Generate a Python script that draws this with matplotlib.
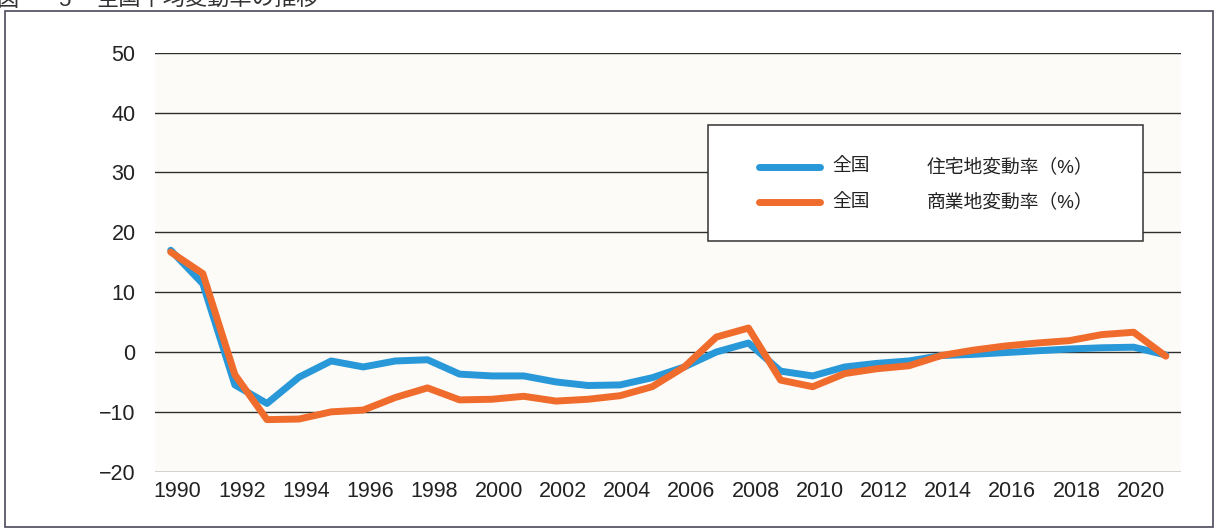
import numpy as np
import matplotlib
matplotlib.use("Agg")
import matplotlib.pyplot as plt
from matplotlib.patches import Rectangle
from matplotlib.lines import Line2D
from matplotlib.transforms import ScaledTranslation

plt.rcParams['font.family'] = ['Liberation Sans', 'Noto Sans CJK JP', 'DejaVu Sans']

# データ（全国平均変動率, %）
years = list(range(1990, 2022))
residential = [17.0, 11.4, -5.5, -8.6, -4.2, -1.5, -2.5, -1.5, -1.3, -3.7,
               -4.0, -4.0, -5.0, -5.6, -5.5, -4.3, -2.5, 0.0, 1.5, -3.2,
               -4.0, -2.5, -1.9, -1.5, -0.6, -0.4, -0.1, 0.2, 0.5, 0.7,
               0.8, -0.5]
commercial = [16.7, 13.1, -3.8, -11.3, -11.2, -10.0, -9.7, -7.6, -6.0, -8.0,
              -7.9, -7.4, -8.2, -7.9, -7.3, -5.8, -2.5, 2.5, 4.0, -4.7,
              -5.8, -3.6, -2.8, -2.3, -0.6, 0.3, 1.0, 1.5, 1.9, 2.9,
              3.3, -0.7]
yticks = [-20, -10, 0, 10, 20, 30, 40, 50]
xtick_years = years[::2][:16]
legend_labels = [("全国", "住宅地変動率（%）"), ("全国", "商業地変動率（%）")]
title_fig = "図"
title_num = "5"
title = "全国平均変動率の推移"

BLUE = "#2898d8"
ORANGE = "#f06c2c"

W, H = 1218, 531
def fx(px):
    return px / W
def fy(py):
    return 1 - py / H

fig = plt.figure(figsize=(W / 100, H / 100), dpi=100)
fig.patch.set_facecolor("white")

ax = fig.add_axes([fx(155), fy(471.7), fx(1181) - fx(155), fy(52.7) - fy(471.7)])
ax.set_facecolor("#fdfbf7")

ax.plot(years, residential, color=BLUE, lw=5, solid_joinstyle="round",
        solid_capstyle="round", zorder=3)
ax.plot(years, commercial, color=ORANGE, lw=5, solid_joinstyle="round",
        solid_capstyle="round", zorder=4)

ax.set_ylim(-20, 50)
ax.set_xlim(1990 - 15.7 / 32.1, 1990 + (1181 - 170.7) / 32.1)
ax.set_yticks(yticks)
ax.set_xticks(xtick_years)
ax.set_xticklabels([str(y) for y in xtick_years])
ax.grid(axis="y", color="#2e2e2e", lw=1.0)
ax.grid(axis="x", visible=False)
ax.set_axisbelow(True)
for s in ax.spines.values():
    s.set_visible(False)
ax.tick_params(axis="y", length=0, pad=14, labelsize=15.5, labelcolor="#222222")
ax.tick_params(axis="x", length=0, pad=7, labelsize=15.5, labelcolor="#222222")
off = ScaledTranslation(7 / 100, 0, fig.dpi_scale_trans)
for lab in ax.get_xticklabels():
    lab.set_transform(lab.get_transform() + off)

# 外枠
fig.add_artist(Rectangle((fx(5), fy(527)), fx(1213) - fx(5), fy(11) - fy(527),
                         transform=fig.transFigure, fill=False,
                         ec="#4a4a5a", lw=1.2, zorder=1))

# 凡例
fig.add_artist(Rectangle((fx(708), fy(241)), fx(1143) - fx(708), fy(125) - fy(241),
                         transform=fig.transFigure, fc="white",
                         ec="#333333", lw=1.1, zorder=5))
for i, (c, (a, b)) in enumerate(zip([BLUE, ORANGE], legend_labels)):
    yy = 167 + i * 35
    fig.add_artist(Line2D([fx(759), fx(820)], [fy(yy), fy(yy)], color=c, lw=5,
                          solid_capstyle="round", transform=fig.transFigure,
                          zorder=6))
    fig.text(fx(832), fy(yy), a, fontsize=13.5, va="center", ha="left",
             color="#222222", zorder=6)
    fig.text(fx(927), fy(yy), b, fontsize=13.5, va="center", ha="left",
             color="#222222", zorder=6)

# タイトル（上端で切れている）
fig.text(fx(-4), fy(11), title_fig, fontsize=16, va="bottom", ha="left",
         color="#333333")
fig.text(fx(58), fy(11), title_num, fontsize=16, va="bottom", ha="left",
         color="#333333")
fig.text(fx(96), fy(11), title, fontsize=16, va="bottom", ha="left",
         color="#333333")

fig.savefig("out.png", dpi=100)
